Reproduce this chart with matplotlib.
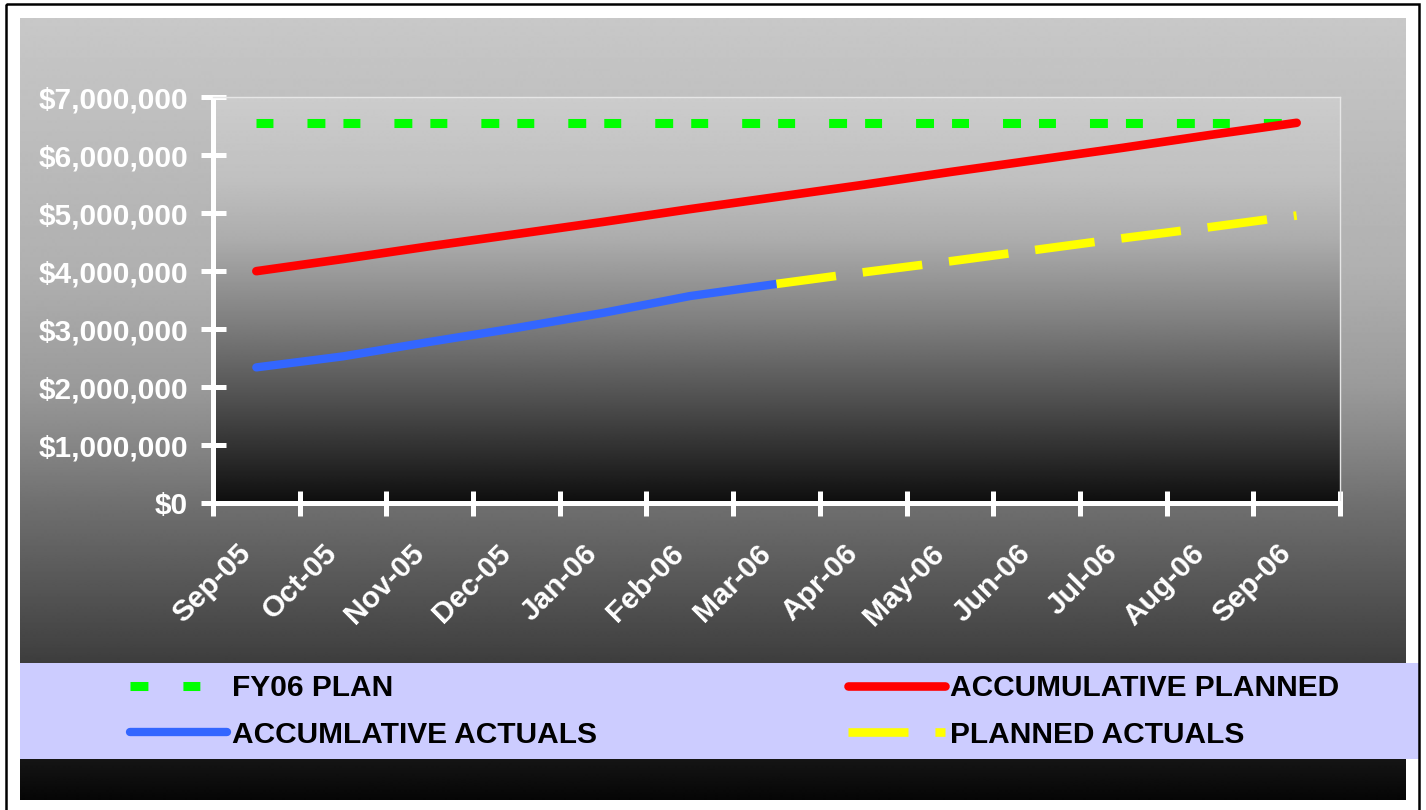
import numpy as np
import matplotlib
matplotlib.use('Agg')
import matplotlib.pyplot as plt
from matplotlib.patches import Rectangle
from matplotlib.lines import Line2D
from matplotlib.ticker import FuncFormatter
from matplotlib.transforms import ScaledTranslation

# ---------------- data ----------------
months = ['Sep-05', 'Oct-05', 'Nov-05', 'Dec-05', 'Jan-06', 'Feb-06', 'Mar-06',
          'Apr-06', 'May-06', 'Jun-06', 'Jul-06', 'Aug-06', 'Sep-06']
fy06_plan = [6560000, 6560000, 6560000, 6560000, 6560000, 6560000, 6560000,
             6560000, 6560000, 6560000, 6560000, 6560000, 6560000]
acc_planned = [4000000, 4210000, 4430000, 4640000, 4850000, 5070000, 5280000,
               5490000, 5710000, 5920000, 6130000, 6350000, 6560000]
acc_actuals_months = ['Sep-05', 'Oct-05', 'Nov-05', 'Dec-05', 'Jan-06', 'Feb-06', 'Mar-06']
acc_actuals = [2340000, 2530000, 2780000, 3020000, 3280000, 3570000, 3780000]
planned_actuals_months = ['Mar-06', 'Apr-06', 'May-06', 'Jun-06', 'Jul-06', 'Aug-06', 'Sep-06']
planned_actuals = [3780000, 3980000, 4170000, 4370000, 4570000, 4760000, 4960000]
y_ticks = [0, 1000000, 2000000, 3000000, 4000000, 5000000, 6000000, 7000000]
legend_labels = ['FY06 PLAN', 'ACCUMLATIVE ACTUALS', 'ACCUMULATIVE PLANNED', 'PLANNED ACTUALS']

# ---------------- style ----------------
plt.rcParams['font.family'] = ['Liberation Sans', 'DejaVu Sans']
plt.rcParams['font.weight'] = 'bold'
plt.rcParams['lines.scale_dashes'] = False

W, H = 1426, 810
fig = plt.figure(figsize=(W / 100, H / 100), dpi=100)
fig.patch.set_facecolor('white')

# background axes in pixel coordinates
bg = fig.add_axes([0, 0, 1, 1])
bg.axis('off')
ys = np.arange(18, 801)
vals = np.interp(ys, [18, 271, 387, 445, 503, 650, 760, 800],
                 [200, 176, 154, 134, 112, 66, 21, 6]) / 255.0
bg.imshow(np.repeat(vals[:, None], 2, axis=1), cmap='gray', vmin=0, vmax=1,
          extent=(20, 1406, 800, 18), aspect='auto', interpolation='bilinear')
bg.add_patch(Rectangle((20, 663), 1399, 96, facecolor='#ccccff', edgecolor='none'))
bg.add_patch(Rectangle((6, 4), 1413, 830, fill=False, edgecolor='black', lw=1.8))
bg.set_xlim(0, W)
bg.set_ylim(H, 0)

# main axes
ax_l, ax_r, ax_t, ax_b = 213, 1340, 97.3, 503
ax = fig.add_axes([ax_l / W, 1 - ax_b / H, (ax_r - ax_l) / W, (ax_b - ax_t) / H])
ax.set_facecolor('none')
x = np.arange(len(months))
xa = np.array([months.index(m) for m in acc_actuals_months])
xp = np.array([months.index(m) for m in planned_actuals_months])

py = np.arange(97, 504)
pvals = np.interp(py, [97, 180, 240, 320, 400, 503],
                  [204, 192, 172, 128, 80, 14]) / 255.0
ax.imshow(np.repeat(pvals[:, None], 2, axis=1), cmap='gray', vmin=0, vmax=1,
          extent=(-0.5, 12.5, 0, 7000000), origin='upper', aspect='auto',
          interpolation='bilinear', zorder=0)

l_plan, = ax.plot(x, fy06_plan, color='#00ff00', lw=6.5,
                  linestyle=(0, (12.2, 24.5, 12.9, 13.0)), dash_capstyle='butt', zorder=3)
l_act, = ax.plot(xa, acc_actuals, color='#3366ff', lw=6.0,
                 solid_capstyle='round', solid_joinstyle='round', zorder=4)
l_pa, = ax.plot(xp, planned_actuals, color='#ffff00', lw=6.2,
                linestyle=(0, (43.2, 19.4)), dash_capstyle='butt', zorder=5)
l_pl, = ax.plot(x, acc_planned, color='#ff0000', lw=6.2,
                solid_capstyle='round', zorder=6)

ax.set_xlim(-0.5, 12.5)
ax.set_ylim(0, 7000000)

for s in ['top', 'right']:
    ax.spines[s].set_color('#e6e6e6')
    ax.spines[s].set_linewidth(1.0)
for s in ['left', 'bottom']:
    ax.spines[s].set_color('white')
    ax.spines[s].set_linewidth(3.6)
    ax.spines[s].set_capstyle('round')

ax.set_yticks(y_ticks)
ax.yaxis.set_major_formatter(FuncFormatter(lambda v, p: '${:,.0f}'.format(v)))
ax.tick_params(axis='y', direction='inout', length=18, width=3.6, color='white',
               labelcolor='white', labelsize=21.5, pad=9)

ax.set_xticks(x)
ax.set_xticklabels(months, rotation=45, ha='right', va='center', rotation_mode='anchor')
ax.tick_params(axis='x', which='major', length=0, labelcolor='white', labelsize=21.5, pad=33)
shift = ScaledTranslation(-10 / 100, 0, fig.dpi_scale_trans)
for lab in ax.get_xticklabels():
    lab.set_transform(lab.get_transform() + shift)
ax.set_xticks(np.arange(-0.5, 13, 1), minor=True)
ax.tick_params(axis='x', which='minor', direction='inout', length=18, width=3.6, color='white')

# legend proxy for the green handle so it shows two short dashes like the original
plan_proxy = Line2D([], [], color='#00ff00', lw=6.5,
                    linestyle=(0, (12.9, 25.2, 12.2, 60.0)), dash_capstyle='butt')

fig.legend([plan_proxy, l_act, l_pl, l_pa], legend_labels, ncol=2, loc='upper left',
           bbox_to_anchor=(130 / W, 1 - 674 / H), frameon=False,
           prop={'weight': 'bold', 'size': 21.5}, handlelength=3.25,
           handletextpad=0.17, columnspacing=8.4, labelspacing=0.63,
           borderpad=0, borderaxespad=0)

fig.savefig('out.png', dpi=100, facecolor='white')
